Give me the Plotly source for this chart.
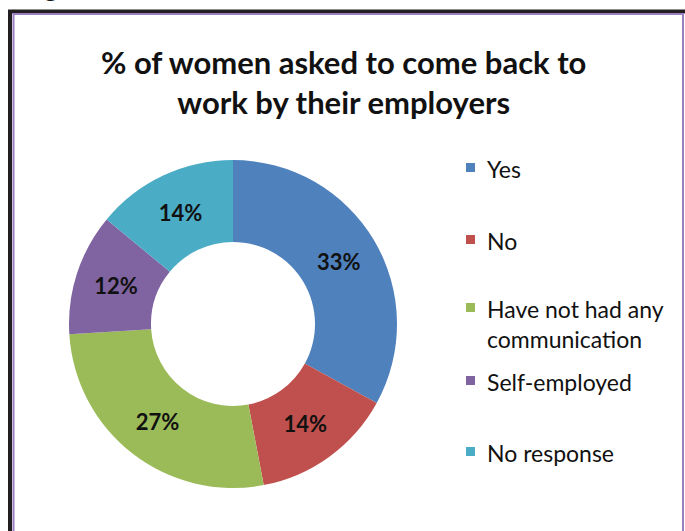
import plotly.graph_objects as go

# Survey response categories and their shares (percent)
categories = ["Yes", "No", "Have not had any communication", "Self-employed", "No response"]
legend_labels = ["Yes", "No", "Have not had any<br>communication", "Self-employed", "No response"]
shares = [33, 14, 27, 12, 14]
colors = ["#4F81BD", "#C0504D", "#9BBB59", "#8064A2", "#4BACC6"]

W, H = 685, 531
FONT = "Lato"


def px_x(x):
    return x / W


def px_y(y):
    return 1 - y / H


fig = go.Figure()

# Donut chart
cx, cy, r = 233, 324, 164
fig.add_trace(go.Pie(
    labels=categories,
    values=shares,
    marker=dict(colors=colors, line=dict(width=0)),
    hole=0.5,
    sort=False,
    direction="clockwise",
    rotation=0,
    texttemplate="%{value}%",
    textposition="inside",
    insidetextorientation="horizontal",
    textfont=dict(family=FONT, size=22, color="#111111", weight="bold"),
    domain=dict(x=[px_x(cx - r), px_x(cx + r)], y=[px_y(cy + r), px_y(cy - r)]),
    showlegend=False,
    hoverinfo="label+percent",
))

annotations = []
shapes = []

# Title
annotations.append(dict(
    text="<b>% of women asked to come back to<br>work by their employers</b>",
    x=px_x(343), y=px_y(82), xref="paper", yref="paper",
    xanchor="center", yanchor="middle", showarrow=False,
    font=dict(family=FONT, size=31, color="#111111"),
))

# Legend: square swatch followed by category name
legend_rows = [167, 239, 307, 380, 451]
for label, color, ly in zip(legend_labels, colors, legend_rows):
    shapes.append(dict(
        type="rect", xref="paper", yref="paper",
        x0=px_x(466), x1=px_x(475), y0=px_y(ly + 5), y1=px_y(ly - 4),
        fillcolor=color, line=dict(width=0),
    ))
    annotations.append(dict(
        text=label, x=px_x(485), y=px_y(ly - 14), xref="paper", yref="paper",
        xanchor="left", yanchor="top", align="left", showarrow=False,
        font=dict(family=FONT, size=23, color="#111111"),
    ))

# Caption fragment above the frame
annotations.append(dict(
    text="<b>Fig</b>", x=px_x(60), y=px_y(-13), xref="paper", yref="paper",
    xanchor="right", yanchor="middle", showarrow=False,
    font=dict(family=FONT, size=26, color="#111111"),
))

# Frame: dark outer edge and purple inner edge
shapes += [
    dict(type="line", xref="paper", yref="paper", x0=px_x(8), x1=1.01, y0=px_y(11.5), y1=px_y(11.5),
         line=dict(color="#231f20", width=4)),
    dict(type="line", xref="paper", yref="paper", x0=px_x(10), x1=px_x(10), y0=px_y(10), y1=-0.01,
         line=dict(color="#231f20", width=4)),
    dict(type="line", xref="paper", yref="paper", x0=px_x(13), x1=px_x(684), y0=px_y(14), y1=px_y(14),
         line=dict(color="#9a7fc0", width=2)),
    dict(type="line", xref="paper", yref="paper", x0=px_x(13.5), x1=px_x(13.5), y0=px_y(13), y1=-0.01,
         line=dict(color="#9a7fc0", width=2)),
    dict(type="line", xref="paper", yref="paper", x0=px_x(683), x1=px_x(683), y0=px_y(13), y1=-0.01,
         line=dict(color="#9a7fc0", width=2)),
]

fig.update_layout(
    width=W, height=H,
    margin=dict(l=0, r=0, t=0, b=0),
    paper_bgcolor="white", plot_bgcolor="white",
    uniformtext=dict(minsize=22, mode="show"),
    annotations=annotations, shapes=shapes,
    xaxis=dict(visible=False), yaxis=dict(visible=False),
)

fig.write_html("out.html")
